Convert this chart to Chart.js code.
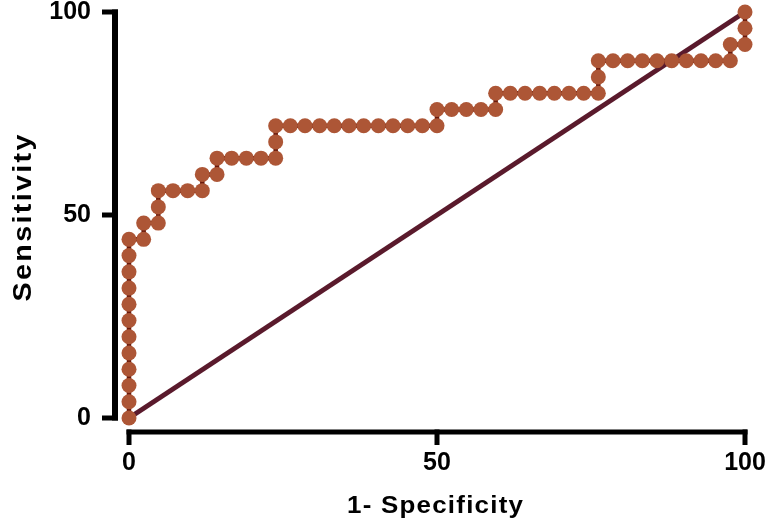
<!DOCTYPE html>
<html>
<head>
<meta charset="utf-8">
<script src="https://cdn.jsdelivr.net/npm/chart.js@4"></script>
<style>
  html, body { margin: 0; padding: 0; background: #fff; }
  #wrap { width: 767px; height: 519px; }
</style>
</head>
<body>
<div id="wrap"><canvas id="rocChart"></canvas></div>
<script>
// ROC curve: 1 - specificity (%) vs sensitivity (%)
const fpr = [
    0, 0, 0, 0, 0, 0, 0, 0, 0, 0, 0, 0,
    2.38, 2.38, 4.76, 4.76, 4.76, 7.14, 9.52, 11.90, 11.90, 14.29, 14.29,
    16.67, 19.05, 21.43, 23.81, 23.81, 23.81,
    26.19, 28.57, 30.95, 33.33, 35.71, 38.10, 40.48, 42.86, 45.24, 47.62, 50.00,
    50.00, 52.38, 54.76, 57.14, 59.52, 59.52,
    61.90, 64.29, 66.67, 69.05, 71.43, 73.81, 76.19, 76.19, 76.19,
    78.57, 80.95, 83.33, 85.71, 88.10, 90.48, 92.86, 95.24, 97.62, 97.62,
    100, 100, 100
];
const sensitivity = [
    0, 4, 8, 12, 16, 20, 24, 28, 32, 36, 40, 44,
    44, 48, 48, 52, 56, 56, 56, 56, 60, 60, 64,
    64, 64, 64, 64, 68, 72,
    72, 72, 72, 72, 72, 72, 72, 72, 72, 72, 72,
    76, 76, 76, 76, 76, 80,
    80, 80, 80, 80, 80, 80, 80, 84, 88,
    88, 88, 88, 88, 88, 88, 88, 88, 88, 92,
    92, 96, 100
];
// line of identity
const refX = [0, 100];
const refY = [0, 100];
const tickValues = [0, 50, 100];

const xTitle = '1- Specificity';
const yTitle = 'Sensitivity';

const fontFamily = '"Liberation Sans", Arial, Helvetica, sans-serif';

// drop the label overhang padding so the plot box lands where we want it
function noPad(scale) {
    scale.paddingTop = 0;
    scale.paddingBottom = 0;
    scale.paddingLeft = 0;
    scale.paddingRight = 0;
}

// draw a title a bit wider than the font, like the original export
function wideText(ctx, text, cx, cy, size, stretch, target) {
    ctx.font = 'bold ' + size + 'px ' + fontFamily;
    ctx.letterSpacing = '0px';
    const w0 = ctx.measureText(text).width * stretch;
    const ls = Math.max(0, (target - w0) / (text.length - 1) / stretch);
    ctx.letterSpacing = ls + 'px';
    const w = ctx.measureText(text).width - ls;
    ctx.save();
    ctx.translate(cx, cy);
    return { w, done: () => ctx.restore() };
}

// Prism-style offset axes + axis titles
const prismAxes = {
    id: 'prismAxes',
    afterDraw(chart) {
        const ctx = chart.ctx;
        const xs = chart.scales.x;
        const ys = chart.scales.y;
        const yLineX = xs.getPixelForValue(0) - 14;
        const xLineY = ys.getPixelForValue(0) + 14;
        ctx.save();
        ctx.strokeStyle = '#000';
        ctx.lineCap = 'butt';
        // y axis
        ctx.lineWidth = 6;
        ctx.beginPath();
        ctx.moveTo(yLineX, ys.getPixelForValue(100) - 2.5);
        ctx.lineTo(yLineX, ys.getPixelForValue(0) + 2.5);
        ctx.stroke();
        ctx.lineWidth = 5;
        tickValues.forEach(v => {
            const py = ys.getPixelForValue(v);
            ctx.beginPath();
            ctx.moveTo(yLineX + 3, py);
            ctx.lineTo(102, py);
            ctx.stroke();
        });
        // x axis
        ctx.lineWidth = 5;
        ctx.beginPath();
        ctx.moveTo(xs.getPixelForValue(0) - 2.5, xLineY);
        ctx.lineTo(xs.getPixelForValue(100) + 2.5, xLineY);
        ctx.stroke();
        tickValues.forEach(v => {
            const px = xs.getPixelForValue(v);
            ctx.beginPath();
            ctx.moveTo(px, xLineY - 2.5);
            ctx.lineTo(px, xLineY + 13);
            ctx.stroke();
        });

        // titles
        ctx.fillStyle = '#000';
        ctx.textAlign = 'left';
        ctx.textBaseline = 'alphabetic';

        let t = wideText(ctx, xTitle, 435, 513, 24, 1.08, 176);
        ctx.scale(1.08, 1);
        ctx.fillText(xTitle, -t.w / 2, 0);
        t.done();

        t = wideText(ctx, yTitle, 31, 218, 25, 1.15, 167);
        ctx.rotate(-Math.PI / 2);
        ctx.scale(1.15, 1);
        ctx.fillText(yTitle, -t.w / 2, 0);
        t.done();
        ctx.restore();
    }
};

const rocData = fpr.map((v, i) => ({ x: v, y: sensitivity[i] }));
const refData = refX.map((v, i) => ({ x: v, y: refY[i] }));

const config = {
    type: 'scatter',
    data: {
        datasets: [{
            label: 'ROC',
            data: rocData,
            showLine: true,
            borderColor: '#6a1a0c',
            borderWidth: 4.5,
            backgroundColor: '#ad5636',
            pointBackgroundColor: '#ad5636',
            pointBorderColor: '#ad5636',
            pointBorderWidth: 0,
            pointRadius: 7.5,
            clip: false
        }, {
            label: 'Reference',
            data: refData,
            showLine: true,
            borderColor: '#5a1a2c',
            borderWidth: 5,
            pointRadius: 0,
            clip: false
        }]
    },
    options: {
        responsive: true,
        maintainAspectRatio: false,
        animation: false,
        layout: {
            padding: { left: 0, right: 22, top: 12, bottom: 0 }
        },
        plugins: {
            legend: false,
            tooltip: { enabled: false }
        },
        scales: {
            x: {
                type: 'linear',
                min: 0,
                max: 100,
                afterFit(scale) { scale.height = 101; noPad(scale); },
                grid: { display: false, drawTicks: false },
                border: { display: false },
                ticks: {
                    stepSize: 50,
                    padding: 30,
                    color: '#000',
                    maxRotation: 0,
                    font: { family: fontFamily, size: 25, weight: 'bold' }
                }
            },
            y: {
                type: 'linear',
                min: 0,
                max: 100,
                afterFit(scale) { scale.width = 129; noPad(scale); },
                grid: { display: false, drawTicks: false },
                border: { display: false },
                ticks: {
                    stepSize: 50,
                    padding: 38,
                    color: '#000',
                    font: { family: fontFamily, size: 25, weight: 'bold' }
                }
            }
        }
    },
    plugins: [prismAxes]
};

const rocChart = new Chart(document.getElementById('rocChart'), config);
</script>
</body>
</html>
